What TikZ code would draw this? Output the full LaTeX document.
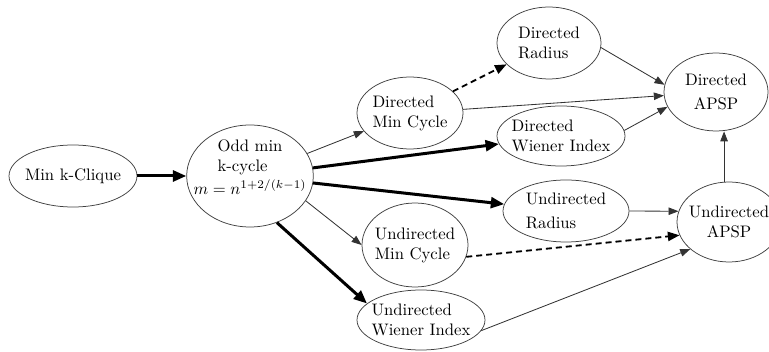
\documentclass[tikz,border=0pt]{standalone}
\usetikzlibrary{shapes.geometric,arrows.meta}
\tikzset{
    problem/.style={draw=black!75, line width=0.45pt, ellipse, inner sep=-4pt, align=left},
    thinred/.style={draw=black!80, line width=0.5pt, -{Triangle[length=6pt,width=4.5pt]}},
    thickred/.style={draw=black, line width=1.8pt, -{Triangle[length=8pt,width=6.5pt]}},
    dashred/.style={draw=black, line width=1.1pt, dash pattern=on 3.6pt off 2.4pt, -{Triangle[length=7pt,width=5.5pt]}}
}
\begin{document}
\begin{tikzpicture}[x=0.6pt, y=-0.6pt]
    \useasboundingbox (0,0) rectangle (769,352);
    \node[problem, minimum width=76.8pt, minimum height=37.2pt] (clique) at (73,176) {Min k-Clique};
    \node[problem, inner xsep=-7pt, align=center, minimum width=72pt, minimum height=61.2pt] (oddcycle) at (250,176) {
        \begin{tabular}{@{}l@{}}Odd min\\k-cycle\end{tabular}\\$m=n^{1+2/(k-1)}$\rule[-12pt]{0pt}{12pt}
    };
    \node[problem, minimum width=63.6pt, minimum height=43.2pt] (dircycle) at (410,113) {Directed\\Min Cycle};
    \node[problem, minimum width=62.4pt, minimum height=43.2pt] (dirradius) at (549,43) {Directed\\Radius};
    \node[problem, align=center, minimum width=62.4pt, minimum height=46.8pt] (dirapsp) at (716,92) {Directed\\[2pt]APSP};
    \node[problem, minimum width=76.8pt, minimum height=36pt] (dirwiener) at (561,136) {Directed\\Wiener Index};
    \node[problem, minimum width=75.6pt, minimum height=37.2pt] (undradius) at (566,211) {Undirected\\[2pt]Radius};
    \node[problem, align=center, minimum width=62.4pt, minimum height=48pt] (undapsp) at (729,222) {Undirected\\APSP};
    \node[problem, minimum width=63.6pt, minimum height=50.4pt] (undcycle) at (415,245) {Undirected\\Min Cycle};
    \node[problem, minimum width=76.8pt, minimum height=36pt] (undwiener) at (421,320) {Undirected\\Wiener Index};

    \draw[thickred] (clique) -- (oddcycle);
    \draw[thinred] (oddcycle) -- (dircycle);
    \draw[thickred] (oddcycle) -- (dirwiener);
    \draw[thickred] (oddcycle) -- (undradius);
    \draw[thinred] (oddcycle.-24) -- (undcycle.west);
    \draw[thickred] (oddcycle.-60) -- (undwiener.163);
    \draw[dashred] (dircycle) -- (dirradius);
    \draw[thinred] (dircycle) -- (dirapsp);
    \draw[thinred] (dirradius.-5) -- (dirapsp.172);
    \draw[thinred] (dirwiener.5) -- (dirapsp.-163);
    \draw[thinred] (undradius.east) -- (undapsp.168);
    \draw[dashred] (undcycle.-13) -- (undapsp.-165);
    \draw[thinred] (undwiener.-10) -- (undapsp.-145);
    \draw[thinred] (undapsp.97) -- (undapsp.97 |- dirapsp.south);
\end{tikzpicture}
\end{document}
